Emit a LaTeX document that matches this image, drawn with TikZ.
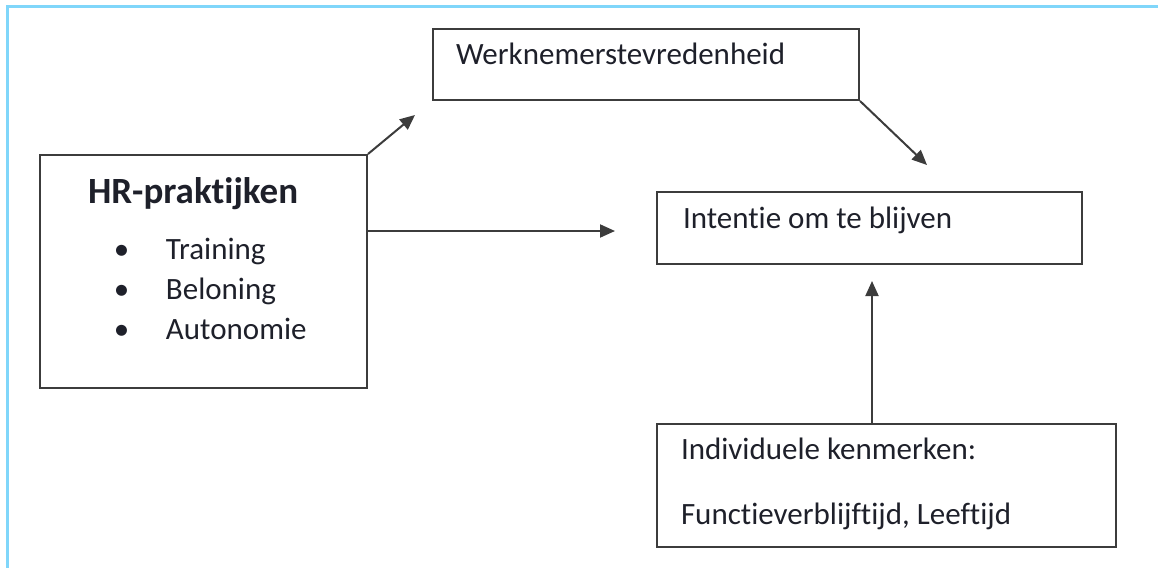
\documentclass[tikz,border=0pt]{standalone}
\usepackage{fontspec}
\setmainfont{Carlito}[Ligatures=NoCommon]
\usetikzlibrary{arrows.meta}
\definecolor{framecol}{RGB}{128,214,250}
\definecolor{inkcol}{RGB}{30,32,42}
\definecolor{linecol}{RGB}{60,60,60}

\begin{document}
\begin{tikzpicture}
  [x=0.5pt,y=-0.5pt,->,>={Triangle[length=7.5pt,width=6.5pt]},
  line width=1pt,
	box node/.style={draw=linecol,rectangle,anchor=north west,
  inner ysep=0pt,text=inkcol,
  font=\fontsize{15.5}{20}\selectfont,
  execute at begin node={\spaceskip=0pt\xspaceskip=0pt}}]

  \useasboundingbox (0,0) rectangle (1158,568);
  \draw[-,framecol,line width=1.5pt] (7,572) -- (7,6) -- (1162,6);

  \node[box node,text width=190pt,inner xsep=11.5pt,
    text height=17.5pt,text depth=18pt] (tevr) at (432,28)
    {Werknemerstevredenheid};
  \node[box node,text width=115.5pt,inner xsep=24pt,
    text height=24pt,text depth=92.5pt] (hr) at (39,154)
    {{\fontsize{18.5}{20}\selectfont\bfseries HR-praktijken}\\[8pt]
     \hspace*{13pt}\makebox[26pt][l]{•}Training\\
     \hspace*{13pt}\makebox[26pt][l]{•}Beloning\\
     \hspace*{13pt}\makebox[26pt][l]{•}Autonomie};
  \node[box node,text width=186.5pt,inner xsep=13pt,
    text height=18pt,text depth=18pt] (intentie) at (656,191)
    {Intentie om te blijven};
  \node[box node,text width=205.5pt,inner xsep=12pt,
    text height=17.5pt,text depth=44pt] (indiv) at (656,423)
    {Individuele kenmerken:\\[12.5pt]Functieverblijftijd, Leeftijd};

  \coordinate (tipA) at (415,115);
  \coordinate (tipB) at (615,231);
  \coordinate (tipC) at (927,165);
  \coordinate (tipD) at (872,281);

  \path[every edge/.append style={draw=linecol}]
    (hr.north east) edge (tipA)
    (hr.east |- tipB) edge (tipB)
    (tevr.south east) edge (tipC)
    (indiv.north -| tipD) edge (tipD);
\end{tikzpicture}
\end{document}
